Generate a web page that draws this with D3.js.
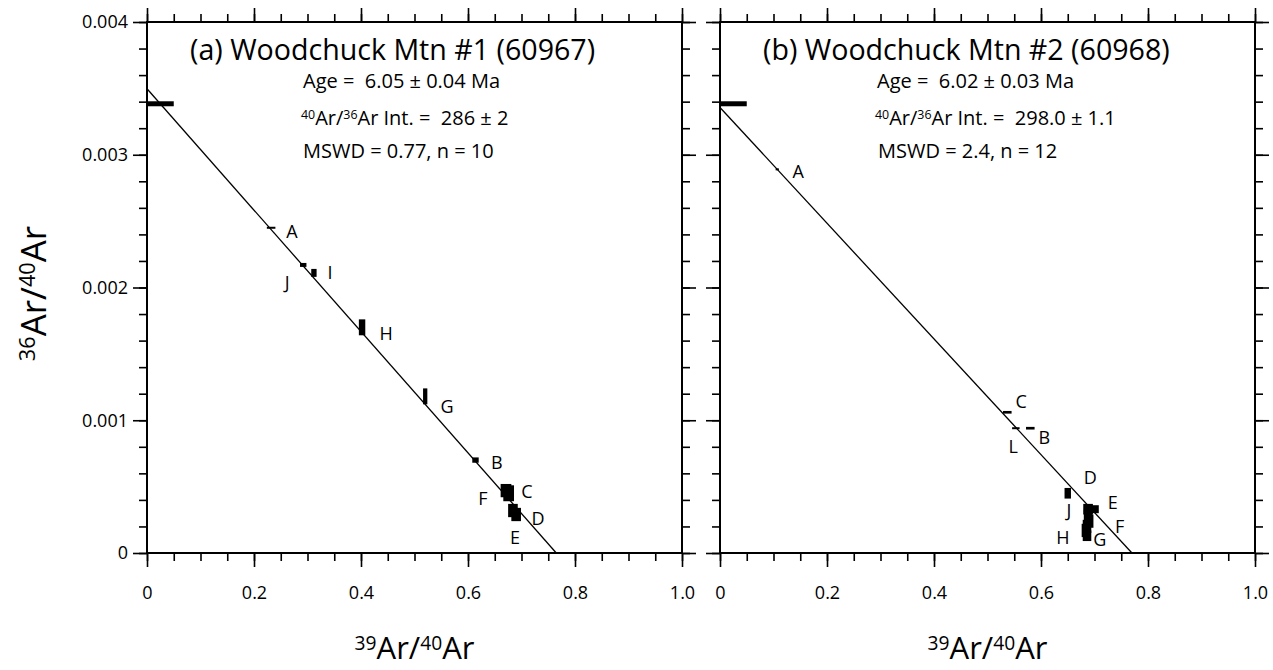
<!DOCTYPE html>
<html>
<head>
<meta charset="utf-8">
<script src="https://cdn.jsdelivr.net/npm/d3@7"></script>
<style>
  body { margin: 0; background: #fff; }
  svg { font-family: "Open Sans", sans-serif; }
</style>
</head>
<body>
<script>
// ---- data ----
var xTicks = [0, 0.2, 0.4, 0.6, 0.8, 1.0];
var xTickLabels = ["0", "0.2", "0.4", "0.6", "0.8", "1.0"];
var yTicks = [0, 0.001, 0.002, 0.003, 0.004];
var yTickLabels = ["0", "0.001", "0.002", "0.003", "0.004"];

var panelTitles = ["(a) Woodchuck Mtn #1 (60967)", "(b) Woodchuck Mtn #2 (60968)"];
var ages = ["6.05 \u00b1 0.04 Ma", "6.02 \u00b1 0.03 Ma"];
var initials = ["286 \u00b1 2", "298.0 \u00b1 1.1"];
var mswds = ["MSWD = 0.77, n = 10", "MSWD = 2.4, n = 12"];

// isochron: y-intercept (36/40 at x=0) and x-intercept (39/40 at y=0)
var lineY0 = [0.003497, 0.003356];
var lineX0 = [0.765, 0.770];

// atmospheric 36/40 marker
var atmY = 0.003384;
var atmX = [0, 0.05];

// panel (a) steps
var stepsA = ["A", "J", "I", "H", "G", "B", "F", "C", "D", "E"];
var xA  = [0.232, 0.292, 0.312, 0.402, 0.520, 0.614, 0.671, 0.676, 0.684, 0.690];
var yA  = [0.00245, 0.00217, 0.00211, 0.00170, 0.00118, 0.00070, 0.00047, 0.00045, 0.00032, 0.00029];
var sxA = [0.008, 0.006, 0.005, 0.006, 0.004, 0.006, 0.010, 0.010, 0.009, 0.009];
var syA = [0.000004, 0.000015, 0.00003, 0.00006, 0.00006, 0.00002, 0.00005, 0.00006, 0.00005, 0.00005];
var lxA = [0.271, 0.262, 0.342, 0.447, 0.561, 0.654, 0.628, 0.710, 0.731, 0.688];
var lyA = [0.00242, 0.00204, 0.00211, 0.00165, 0.00110, 0.00068, 0.00041, 0.00046, 0.00026, 0.00012];

// panel (b) steps
var stepsB = ["A", "C", "L", "B", "J", "D", "E", "K", "F", "I", "H", "G"];
var xB  = [0.107, 0.537, 0.553, 0.580, 0.650, 0.688, 0.698, 0.688, 0.690, 0.686, 0.684, 0.686];
var yB  = [0.00289, 0.00106, 0.00094, 0.00094, 0.00045, 0.00033, 0.00033, 0.00028, 0.00024, 0.00020, 0.00017, 0.00013];
var sxB = [0.003, 0.008, 0.007, 0.008, 0.006, 0.009, 0.010, 0.008, 0.008, 0.008, 0.008, 0.008];
var syB = [0.000003, 0.00001, 0.000003, 0.00001, 0.00004, 0.00004, 0.00003, 0.00005, 0.00005, 0.00005, 0.00005, 0.00004];
var lxB = [0.146, 0.563, 0.548, 0.606, 0.652, 0.692, 0.734, null, 0.747, null, 0.641, 0.710];
var lyB = [0.00287, 0.00114, 0.00080, 0.00087, 0.00032, 0.00057, 0.00038, null, 0.00020, null, 0.00012, 0.00010];

// ---- layout ----
var svg = d3.select('body').append('svg')
  .attr('width', 1273)
  .attr('height', 670);

var panelLeft = [147, 720], panelW = 535, plotTop = 22, plotBottom = 553;
var NB = '\u00a0';

function sup(t, parts) {
  // parts: [[text, isSup], ...]
  parts.forEach(function (p) {
    t.append('tspan')
      .attr('font-size', p[1] ? '0.62em' : null)
      .attr('baseline-shift', p[1] ? '48%' : null)
      .text(p[0]);
  });
}

function drawPanel(i, steps, xs, ys, sxs, sys, lxs, lys) {
  var x = d3.scaleLinear().domain([0, 1]).range([panelLeft[i], panelLeft[i] + panelW]);
  var y = d3.scaleLinear().domain([0, 0.004]).range([plotBottom, plotTop]);
  var g = svg.append('g');

  var xMinor = d3.range(0, 1.0001, 0.05);
  var yMinor = d3.range(0, 0.00401, 0.0002);

  function styleAxis(a) {
    a.select('.domain').remove();
    a.attr('font-size', 18).attr('font-family', null);
    a.selectAll('line').attr('stroke-width', 1.6);
    a.selectAll('text').attr('fill', '#000');
  }

  // minor ticks
  g.append('g').attr('transform', 'translate(0,' + plotBottom + ')')
    .call(d3.axisBottom(x).tickValues(xMinor).tickSize(8).tickFormat('')).call(styleAxis);
  g.append('g').attr('transform', 'translate(0,' + plotTop + ')')
    .call(d3.axisTop(x).tickValues(xMinor).tickSize(8).tickFormat('')).call(styleAxis);
  g.append('g').attr('transform', 'translate(' + x(0) + ',0)')
    .call(d3.axisLeft(y).tickValues(yMinor).tickSize(8).tickFormat('')).call(styleAxis);
  g.append('g').attr('transform', 'translate(' + x(1) + ',0)')
    .call(d3.axisRight(y).tickValues(yMinor).tickSize(8).tickFormat('')).call(styleAxis);

  // major ticks
  g.append('g').attr('transform', 'translate(0,' + plotBottom + ')')
    .call(d3.axisBottom(x).tickValues(xTicks).tickSize(14).tickPadding(19)
      .tickFormat(function (d, k) { return xTickLabels[k]; })).call(styleAxis);
  g.append('g').attr('transform', 'translate(0,' + plotTop + ')')
    .call(d3.axisTop(x).tickValues(xTicks).tickSize(14).tickFormat('')).call(styleAxis);
  g.append('g').attr('transform', 'translate(' + x(0) + ',0)')
    .call(d3.axisLeft(y).tickValues(yTicks).tickSize(14).tickPadding(5)
      .tickFormat(function (d, k) { return i == 0 ? yTickLabels[k] : ''; })).call(styleAxis);
  g.append('g').attr('transform', 'translate(' + x(1) + ',0)')
    .call(d3.axisRight(y).tickValues(yTicks).tickSize(14).tickFormat('')).call(styleAxis);

  // frame
  g.append('rect')
    .attr('x', x(0)).attr('y', y(0.004))
    .attr('width', x(1) - x(0)).attr('height', y(0) - y(0.004))
    .attr('fill', 'none').attr('stroke', '#000').attr('stroke-width', 2);

  // isochron line
  var line = d3.line().x(function (d) { return x(d[0]); }).y(function (d) { return y(d[1]); });
  g.append('path')
    .datum([[0, lineY0[i]], [lineX0[i], 0]])
    .attr('fill', 'none').attr('stroke', '#000').attr('stroke-width', 1.3)
    .attr('d', line);

  // atmospheric marker
  g.append('line')
    .attr('x1', x(atmX[0])).attr('x2', x(atmX[1]))
    .attr('y1', y(atmY)).attr('y2', y(atmY))
    .attr('stroke', '#000').attr('stroke-width', 5);

  // error boxes
  var pts = steps.map(function (s, k) {
    return { s: s, x: xs[k], y: ys[k], sx: sxs[k], sy: sys[k], lx: lxs[k], ly: lys[k] };
  });
  g.append('g').selectAll('rect')
    .data(pts).enter().append('rect')
    .attr('x', function (d) { return x(d.x - d.sx); })
    .attr('y', function (d) { return Math.min(y(d.y + d.sy), y(d.y) - 1); })
    .attr('width', function (d) { return Math.max(x(d.x + d.sx) - x(d.x - d.sx), 2); })
    .attr('height', function (d) { return Math.max(y(d.y - d.sy) - y(d.y + d.sy), 2); })
    .attr('fill', '#000');

  // step labels
  g.append('g').selectAll('text')
    .data(pts.filter(function (d) { return d.lx != null; })).enter().append('text')
    .attr('x', function (d) { return x(d.lx); })
    .attr('y', function (d) { return y(d.ly); })
    .attr('dy', '0.36em')
    .attr('text-anchor', 'middle')
    .attr('font-size', 18)
    .text(function (d) { return d.s; });

  // panel title
  g.append('text')
    .attr('x', x(0) + 43).attr('y', 60)
    .attr('font-size', 28.6)
    .text(panelTitles[i]);

  // results
  var ax = x(0) + (i == 0 ? 156 : 157);
  var res = g.append('g').attr('font-size', 20);
  res.append('text').attr('x', ax).attr('y', 88).text('Age =' + NB + NB + ages[i]);
  sup(res.append('text').attr('x', ax - 2).attr('y', 125),
    [['40', true], ['Ar/', false], ['36', true], ['Ar Int. =' + NB + NB + initials[i], false]]);
  res.append('text').attr('x', ax + (i == 0 ? 0 : 1)).attr('y', 158).text(mswds[i]);

  // x-axis title
  sup(g.append('text')
      .attr('x', (x(0) + x(1)) / 2).attr('y', 659)
      .attr('text-anchor', 'middle').attr('font-size', 31),
    [['39', true], ['Ar/', false], ['40', true], ['Ar', false]]);
}

drawPanel(0, stepsA, xA, yA, sxA, syA, lxA, lyA);
drawPanel(1, stepsB, xB, yB, sxB, syB, lxB, lyB);

// y-axis title
sup(svg.append('text')
    .attr('transform', 'translate(46,' + ((plotTop + plotBottom) / 2 + 6) + ') rotate(-90)')
    .attr('text-anchor', 'middle').attr('font-size', 35),
  [['36', true], ['Ar/', false], ['40', true], ['Ar', false]]);
</script>
</body>
</html>
